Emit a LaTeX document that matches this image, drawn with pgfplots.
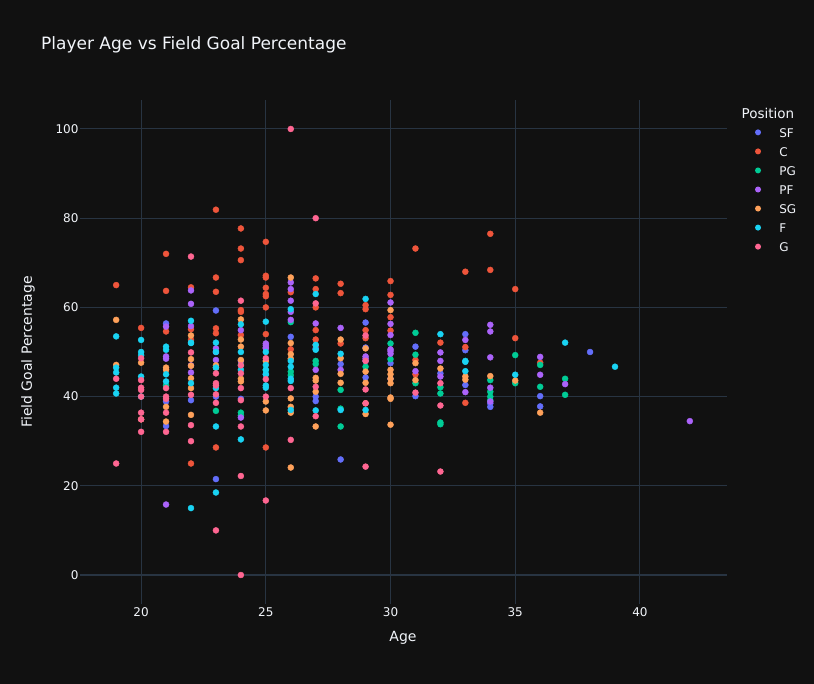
\documentclass[border=0pt]{standalone}
\usepackage{fontspec}
\setmainfont{DejaVu Sans}
\usepackage{pgfplots}
\pgfplotsset{compat=1.18}
\definecolor{bg}{HTML}{111111}
\definecolor{gridc}{HTML}{283442}
\definecolor{fg}{HTML}{F2F5FA}
\definecolor{cSF}{HTML}{636EFA}
\definecolor{cC}{HTML}{EF553B}
\definecolor{cPG}{HTML}{00CC96}
\definecolor{cPF}{HTML}{AB63FA}
\definecolor{cSG}{HTML}{FFA15A}
\definecolor{cF}{HTML}{19D3F3}
\definecolor{cG}{HTML}{FF6692}
\pgfplotsset{pt/.style={only marks, mark=*, mark size=3pt, color=#1, mark options={draw=none, fill=#1},
  legend image code/.code={\fill[#1, draw=none] (0pt,0pt) circle (3pt);}}}
\begin{document}
\begin{tikzpicture}[x=1pt,y=1pt]
\fill[bg] (0,0) rectangle (814,684);
\node[anchor=base west, font=\fontsize{17}{20}\selectfont, text=fg, inner sep=0pt] at (41,634.7) {Player Age vs Field Goal Percentage};
\begin{axis}[
  at={(80pt,80pt)}, anchor=south west, scale only axis, width=647pt, height=504pt,
  xmin=17.55, xmax=43.49, ymin=-6.5, ymax=106.5,
  axis line style={draw=none}, major tick length=0pt,
  xtick={20,25,30,35,40}, ytick={20,40,60,80,100},
  extra y ticks={0}, extra y tick style={grid=major, major grid style={color=gridc, line width=2pt}},
  grid=major, major grid style={color=gridc, line width=1pt},
  tick label style={font=\fontsize{12}{14}\selectfont, text=fg, inner sep=0pt},
  /pgf/number format/assume math mode=true,
  xticklabel style={anchor=north, yshift=-3.7pt},
  yticklabel style={anchor=east, xshift=-1.3pt},
  xlabel={Age}, ylabel={Field Goal Percentage},
  label style={font=\fontsize{14}{16}\selectfont, text=fg},
  xlabel style={at={(axis description cs:0.4992,-0.0675)}, anchor=center},
  ylabel style={at={(axis description cs:-0.0804,0.5)}, anchor=center},
  legend style={at={(axis description cs:1.0433,0.9835)}, anchor=north west, draw=none, fill=none,
    inner sep=0pt, outer sep=0pt, row sep=9.05pt, column sep=18.3pt,
    font=\fontsize{12}{14}\selectfont, text=fg,
    nodes={inner sep=0pt, text height=10pt, text depth=0pt}},
  legend cell align=left,
]
\addlegendimage{empty legend}
\addlegendentry{\fontsize{13.5}{16}\selectfont\hspace*{-37.6pt}Position}
\addplot[pt=cSF] coordinates {(21,56.4)(21,38.9)(21,33.4)(22,39.2)(23,59.3)(23,40)(23,21.5)(24,39.5)(25,45)(26,53.4)(27,50.8)(27,40)(27,39)(28,47.3)(28,25.9)(29,56.6)(29,51)(29,48)(29,44.3)(30,47.5)(30,44)(31,51.2)(31,40.1)(32,45.2)(33,54)(33,50.4)(33,42.6)(34,38.5)(34,37.7)(36,40.1)(36,37.8)(38,50)};
\addlegendentry{SF}
\addplot[pt=cC] coordinates {(19,65)(20,55.4)(21,72)(21,63.7)(21,54.6)(22,64.5)(22,55.1)(22,52.7)(22,25)(23,81.9)(23,66.7)(23,63.5)(23,55.3)(23,54.2)(23,28.6)(24,77.7)(24,73.2)(24,70.6)(24,59.4)(24,59)(24,53.8)(25,74.7)(25,67.1)(25,66.7)(25,64.4)(25,63)(25,62.5)(25,60)(25,54)(25,28.6)(26,63.4)(26,50.6)(27,66.5)(27,64.1)(27,60)(27,54.9)(27,52.8)(27,51.5)(28,65.3)(28,63.2)(28,51.9)(29,60.5)(29,59.6)(29,54.9)(29,53.1)(30,65.9)(30,62.8)(30,57.8)(30,54.8)(31,73.2)(31,48.2)(31,45)(32,52.1)(33,68)(33,51.1)(33,38.6)(34,76.5)(34,68.4)(35,64.1)(35,53.1)(36,47.6)};
\addlegendentry{C}
\addplot[pt=cPG] coordinates {(21,42.5)(23,36.8)(24,47.1)(24,36.4)(24,35.8)(25,46)(26,56.7)(26,45.6)(26,44.8)(27,48)(27,47.3)(28,41.5)(28,37.3)(28,33.3)(29,46.7)(30,51.9)(30,48.4)(31,54.3)(31,49.4)(31,43)(32,42.1)(32,40.7)(32,34.2)(32,33.8)(34,43.7)(34,41.1)(34,40)(34,39.2)(35,49.3)(35,43)(36,47.1)(36,42.2)(37,44)(37,40.4)};
\addlegendentry{PG}
\addplot[pt=cPF] coordinates {(21,55.7)(21,49)(21,48.5)(21,15.8)(22,63.8)(22,60.8)(22,55.8)(22,47)(22,45.4)(23,50.8)(23,50)(23,48.2)(24,54.9)(24,48)(24,35.3)(25,51.9)(25,51.5)(25,51)(25,50.8)(26,65.6)(26,64.1)(26,61.5)(26,59)(26,57.2)(27,56.4)(27,46)(28,55.4)(28,46)(29,49)(29,48.5)(30,61.1)(30,56.3)(30,53.8)(30,50.6)(30,50.2)(30,49.6)(31,45.7)(32,49.9)(32,48)(32,44.5)(33,52.7)(33,41)(34,56.1)(34,54.6)(34,48.8)(34,42)(34,38.9)(36,48.9)(36,44.9)(37,42.8)(42,34.5)};
\addlegendentry{PF}
\addplot[pt=cSG] coordinates {(19,57.2)(19,47.1)(20,47.6)(20,34.9)(21,46.5)(21,46)(21,37.7)(21,34.4)(22,53.7)(22,48.4)(22,46.9)(22,44.1)(22,41.9)(22,35.9)(23,47)(23,46.5)(24,57.3)(24,52.8)(24,51.2)(24,48.2)(24,44)(24,43.4)(25,48)(25,38.9)(25,36.9)(26,66.7)(26,52)(26,49.5)(26,48.5)(26,39.6)(26,37.7)(26,36.4)(26,24.1)(27,44.2)(27,43.6)(27,41.1)(27,33.3)(28,52.8)(28,48.6)(28,45.1)(28,43.1)(29,50.8)(29,45.6)(29,43.1)(29,38.5)(29,36.1)(30,59.4)(30,46)(30,45)(30,44)(30,43)(30,39.8)(30,39.5)(30,33.7)(31,47.5)(31,43.7)(32,46.3)(33,44.5)(33,43.8)(34,44.6)(35,43.6)(36,36.4)};
\addlegendentry{SG}
\addplot[pt=cF] coordinates {(19,53.5)(19,46.5)(19,45.4)(19,42)(19,40.7)(20,52.7)(20,50)(20,49.3)(20,44.5)(20,40)(21,51.2)(21,50.5)(21,45)(21,43.4)(22,57)(22,52.1)(22,52)(22,43)(22,15)(23,52.1)(23,50)(23,46.5)(23,41.9)(23,33.3)(23,18.5)(24,56.2)(24,50)(24,46)(24,30.4)(25,56.8)(25,50)(25,47.1)(25,46)(25,45)(25,42.5)(25,42)(26,59.6)(26,48)(26,46.7)(26,44)(26,43.5)(26,37)(27,63)(27,51.6)(27,50.5)(27,36.9)(28,49.6)(28,37)(29,61.9)(29,37)(32,54)(33,48)(33,47.8)(33,45.7)(35,44.9)(37,52.1)(39,46.7)};
\addlegendentry{F}
\addplot[pt=cG] coordinates {(19,44)(19,25)(20,48.6)(20,43.7)(20,42)(20,41.5)(20,40)(20,36.4)(20,34.9)(20,32.1)(21,41.9)(21,40)(21,39.5)(21,36.4)(21,32.1)(22,71.4)(22,49.9)(22,40.4)(22,33.6)(22,30)(23,45.2)(23,43)(23,42.5)(23,40.5)(23,38.6)(23,10)(24,61.5)(24,47)(24,45.2)(24,41.9)(24,39.2)(24,33.3)(24,22.2)(24,0)(25,48.6)(25,43.9)(25,40)(25,16.7)(26,100)(26,41.9)(26,30.3)(27,80)(27,60.9)(27,42.2)(27,35.6)(29,53.7)(29,48)(29,41.6)(29,38.5)(29,24.3)(31,40.9)(32,43)(32,38)(32,23.2)};
\addlegendentry{G}
\end{axis}
\pgfresetboundingbox
\useasboundingbox (0,0) rectangle (814,684);
\end{tikzpicture}
\end{document}
